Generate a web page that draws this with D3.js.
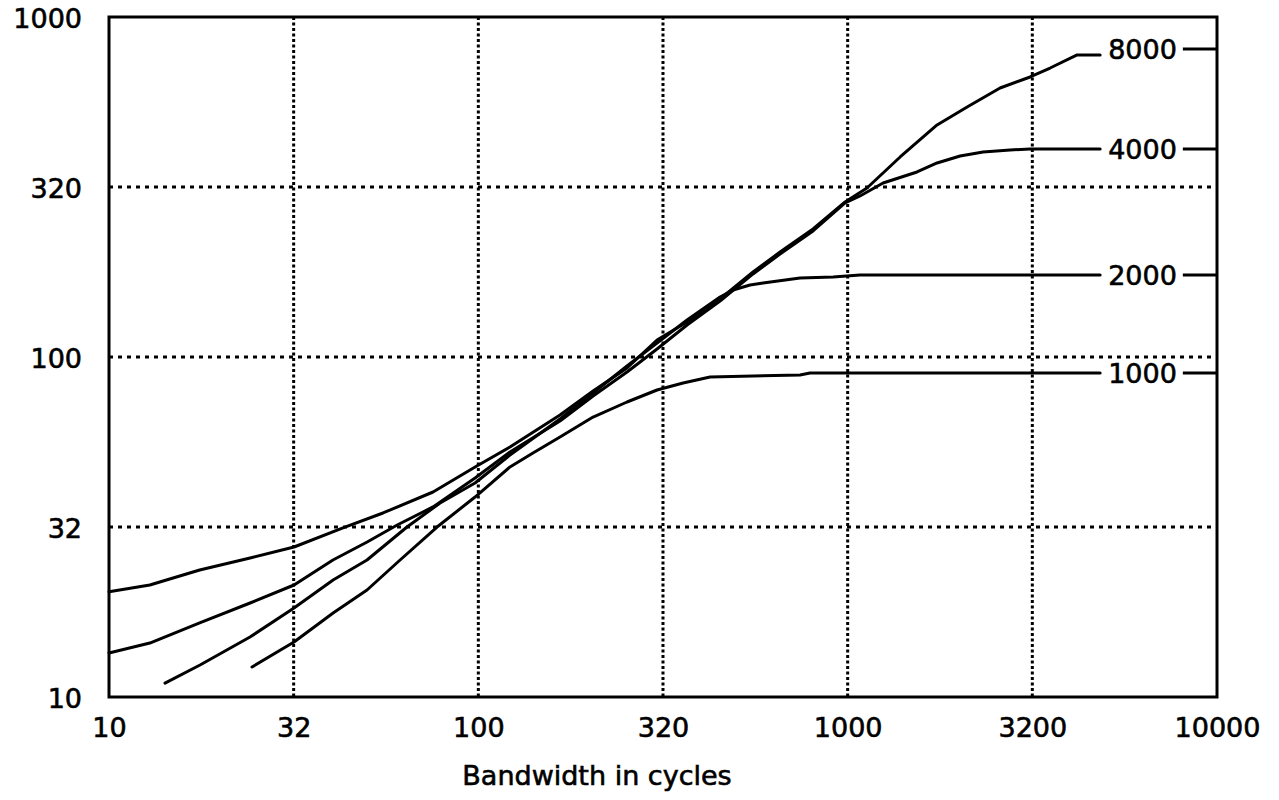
<!DOCTYPE html>
<html>
<head>
<meta charset="utf-8">
<script src="https://cdn.jsdelivr.net/npm/d3@7"></script>
<style>
  html, body { margin: 0; padding: 0; background: #fff; }
  svg { display: block; }
  text { font-family: "DejaVu Sans", sans-serif; fill: #000; stroke: #000; stroke-width: 0.6px; }
</style>
</head>
<body>
<svg id="chart" width="1279" height="800"></svg>
<script>
// Axis ticks (log-log, half-decade gridlines)
const xTicks = [10, 31.62, 100, 316.2, 1000, 3162, 10000];
const xTickLabels = ["10", "32", "100", "320", "1000", "3200", "10000"];
const yTicks = [10, 31.62, 100, 316.2, 1000];
const yTickLabels = ["10", "32", "100", "320", "1000"];
const xTitle = "Bandwidth in cycles";

// Curve names and the level each end label sits at
const seriesNames = ["8000", "4000", "2000", "1000"];
const labelLevels = [805, 409.1, 174.3, 89.76];

// Curve 8000
const x8000 = [10, 12.9, 17.6, 24.1, 31.7, 43.0, 55.2, 75.4, 98.0, 121.8, 166.4, 204.5, 252.7, 304.7, 367.4, 451.3, 554.4, 656, 805.9, 984, 1128, 1387, 1746, 2106, 2586, 3119, 3533, 4181, 4826];
const y8000 = [20.4, 21.35, 23.63, 25.64, 27.62, 31.42, 34.77, 40.08, 47.48, 54.36, 67.51, 79.43, 92.81, 112.2, 126.8, 148.1, 177.8, 203.6, 238.0, 285.8, 314.1, 387.5, 481.3, 543.6, 618.2, 666.2, 707.9, 773.3, 773.3];

// Curve 4000
const x4000 = [10, 12.9, 17.6, 24.1, 31.7, 40.4, 50.0, 60.3, 75.4, 98.0, 121.8, 166.4, 204.5, 252.7, 304.7, 367.4, 451.3, 554.4, 656, 805.9, 984, 1080, 1247, 1541, 1746, 2016, 2326, 2753, 3119, 4826];
const y4000 = [13.47, 14.41, 16.51, 18.90, 21.35, 25.29, 28.57, 32.06, 36.22, 44.07, 52.55, 64.83, 76.80, 90.35, 105.6, 124.2, 146.1, 175.5, 200.9, 234.8, 283.8, 297.6, 324.9, 350.1, 372.1, 390.1, 400.8, 406.3, 409.1, 409.1];

// Curve 2000
const x2000 = [14.18, 17.64, 24.09, 31.69, 40.44, 49.96, 64.1, 78.8, 97.97, 121.8, 166.4, 204.5, 252.7, 304.7, 367.4, 451.3, 489.5, 544.1, 590.1, 743.1, 913.3, 1080, 4826];
const y2000 = [10.99, 12.42, 15.01, 18.27, 22.09, 25.29, 31.62, 37.21, 42.60, 51.49, 65.70, 78.38, 94.08, 109.9, 128.5, 150.1, 157.4, 162.8, 165.0, 170.7, 171.9, 174.3, 174.3];

// Curve 1000
const x1000 = [24.39, 31.69, 40.44, 49.96, 61.4, 77.3, 97.97, 121.8, 140.6, 166.4, 204.5, 252.7, 304.7, 358.4, 424.1, 743.1, 791, 4826];
const y1000 = [12.25, 14.51, 17.66, 20.64, 25.29, 31.62, 38.74, 47.48, 52.19, 58.17, 66.60, 73.73, 79.97, 83.84, 87.36, 88.55, 89.76, 89.76];

const seriesX = [x8000, x4000, x2000, x1000];
const seriesY = [y8000, y4000, y2000, y1000];

const svg = d3.select("#chart");
const plotLeft = 109, plotRight = 1217, plotTop = 17, plotBottom = 697;
const fontSize = 27;

const x = d3.scaleLog().domain([10, 10000]).range([plotLeft, plotRight]);
const y = d3.scaleLog().domain([10, 1000]).range([plotBottom, plotTop]);

// Dotted gridlines
svg.append("g").selectAll("line")
  .data(xTicks.slice(1, -1))
  .join("line")
  .attr("x1", d => x(d)).attr("x2", d => x(d))
  .attr("y1", plotTop).attr("y2", plotBottom)
  .attr("stroke", "#000").attr("stroke-width", 3)
  .attr("stroke-dasharray", "3,2.5");

svg.append("g").selectAll("line")
  .data(yTicks.slice(1, -1))
  .join("line")
  .attr("x1", plotLeft).attr("x2", plotRight)
  .attr("y1", d => y(d)).attr("y2", d => y(d))
  .attr("stroke", "#000").attr("stroke-width", 3)
  .attr("stroke-dasharray", "4,5");

// Axes
const xAxis = d3.axisBottom(x)
  .tickValues(xTicks)
  .tickFormat((d, i) => xTickLabels[i])
  .tickSize(0).tickPadding(21);
const gx = svg.append("g").attr("transform", `translate(0,${plotBottom})`).call(xAxis);
gx.select(".domain").remove();
gx.selectAll("text").attr("font-size", fontSize).attr("font-family", "DejaVu Sans");

const yAxis = d3.axisLeft(y)
  .tickValues(yTicks)
  .tickFormat((d, i) => yTickLabels[i])
  .tickSize(0).tickPadding(27);
const gy = svg.append("g").attr("transform", `translate(${plotLeft},0)`).call(yAxis);
gy.select(".domain").remove();
gy.selectAll("text").attr("font-size", fontSize).attr("font-family", "DejaVu Sans").attr("dy", "0.4em");

// Frame
svg.append("rect")
  .attr("x", plotLeft).attr("y", plotTop)
  .attr("width", plotRight - plotLeft).attr("height", plotBottom - plotTop)
  .attr("fill", "none").attr("stroke", "#000").attr("stroke-width", 3);

// Curves
const line = d3.line()
  .x(d => x(d[0]))
  .y(d => y(d[1]))
  .curve(d3.curveLinear);

seriesX.forEach((xs, i) => {
  const pts = xs.map((v, j) => [v, seriesY[i][j]]);
  svg.append("path")
    .datum(pts)
    .attr("d", line)
    .attr("fill", "none")
    .attr("stroke", "#000")
    .attr("stroke-width", 3)
    .attr("stroke-linejoin", "round")
    .attr("stroke-linecap", "round");

  // End label with a short lead-out to the frame
  const lastX = xs[xs.length - 1];
  const ly = y(labelLevels[i]);
  const t = svg.append("text")
    .attr("x", x(lastX) + 8)
    .attr("y", ly)
    .attr("dy", "0.36em")
    .attr("font-size", fontSize)
    .text(seriesNames[i]);
  const len = t.node().getComputedTextLength();
  svg.append("line")
    .attr("x1", x(lastX) + 8 + len + 6).attr("x2", plotRight)
    .attr("y1", ly).attr("y2", ly)
    .attr("stroke", "#000").attr("stroke-width", 3);
});

// Axis title
svg.append("text")
  .attr("x", 597)
  .attr("y", 785)
  .attr("text-anchor", "middle")
  .attr("font-size", fontSize)
  .text(xTitle);
</script>
</body>
</html>
